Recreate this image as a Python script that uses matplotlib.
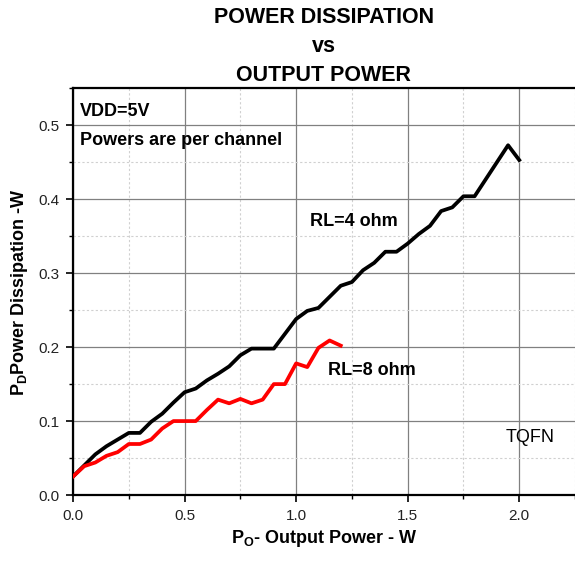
import matplotlib.pyplot as plt
import numpy as np
from matplotlib.ticker import MultipleLocator

plt.rcParams['font.family'] = ['Liberation Sans', 'DejaVu Sans']
plt.rcParams['mathtext.default'] = 'regular'

# output power (W), sampled every 0.05 W
po_4ohm = np.round(np.arange(0, 2.0001, 0.05), 2)
pd_4ohm = [0.025, 0.040, 0.055, 0.066, 0.075, 0.084, 0.084, 0.099, 0.110, 0.125,
           0.139, 0.144, 0.155, 0.164, 0.174, 0.189, 0.198, 0.198, 0.198, 0.218,
           0.238, 0.249, 0.253, 0.268, 0.283, 0.288, 0.304, 0.314, 0.329, 0.329,
           0.340, 0.353, 0.364, 0.384, 0.389, 0.404, 0.404, 0.427, 0.450, 0.473,
           0.453]

po_8ohm = np.round(np.arange(0, 1.2001, 0.05), 2)
pd_8ohm = [0.025, 0.039, 0.044, 0.053, 0.058, 0.069, 0.069, 0.075, 0.090, 0.100,
           0.100, 0.100, 0.115, 0.129, 0.124, 0.130, 0.124, 0.129, 0.150, 0.150,
           0.178, 0.173, 0.199, 0.209, 0.202]

fig = plt.figure(figsize=(5.75, 5.61), dpi=100)
ax = fig.add_axes([0.127, 0.1176, 0.873, 0.725])

ax.plot(po_4ohm, pd_4ohm, color='black', lw=2.7, zorder=3)
ax.plot(po_8ohm, pd_8ohm, color='#FF0000', lw=2.7, zorder=3)

ax.set_xlim(0, 2.25)
ax.set_ylim(0, 0.55)
ax.xaxis.set_major_locator(MultipleLocator(0.5))
ax.xaxis.set_minor_locator(MultipleLocator(0.25))
ax.yaxis.set_major_locator(MultipleLocator(0.1))
ax.yaxis.set_minor_locator(MultipleLocator(0.05))
ax.xaxis.set_major_formatter(plt.FormatStrFormatter('%.1f'))
ax.yaxis.set_major_formatter(plt.FormatStrFormatter('%.1f'))

ax.grid(which='major', color='#808080', lw=0.9, zorder=0)
ax.grid(which='minor', color='#d0d0d0', lw=0.8, linestyle=(0, (2, 2)), zorder=0)

for side in ['left', 'bottom', 'top']:
    ax.spines[side].set_linewidth(1.6)
ax.spines['right'].set_visible(False)
ax.tick_params(which='major', direction='out', length=5, width=1.2, labelsize=11,
               labelcolor='#222222', pad=5)
ax.tick_params(which='minor', direction='out', length=3, width=1.0)

ax.set_xlabel('P$_O$- Output Power - W', fontsize=13, fontweight='bold', labelpad=4)
ax.set_ylabel('P$_D$Power Dissipation -W', fontsize=13, fontweight='bold', labelpad=6)

fig.text(0.563, 0.968, 'POWER DISSIPATION', ha='center', va='center',
         fontsize=15.5, fontweight='bold')
fig.text(0.563, 0.917, 'vs', ha='center', va='center', fontsize=15.5, fontweight='bold')
fig.text(0.563, 0.866, 'OUTPUT POWER', ha='center', va='center',
         fontsize=15.5, fontweight='bold')

ax.text(0.03, 0.518, 'VDD=5V', fontsize=13, fontweight='bold', va='center')
ax.text(0.03, 0.479, 'Powers are per channel', fontsize=13, fontweight='bold', va='center')
ax.text(1.06, 0.370, 'RL=4 ohm', fontsize=13, fontweight='bold', va='center')
ax.text(1.145, 0.168, 'RL=8 ohm', fontsize=13, fontweight='bold', va='center')
ax.text(1.94, 0.078, 'TQFN', fontsize=13, va='center')

fig.savefig('out.png', dpi=100)
